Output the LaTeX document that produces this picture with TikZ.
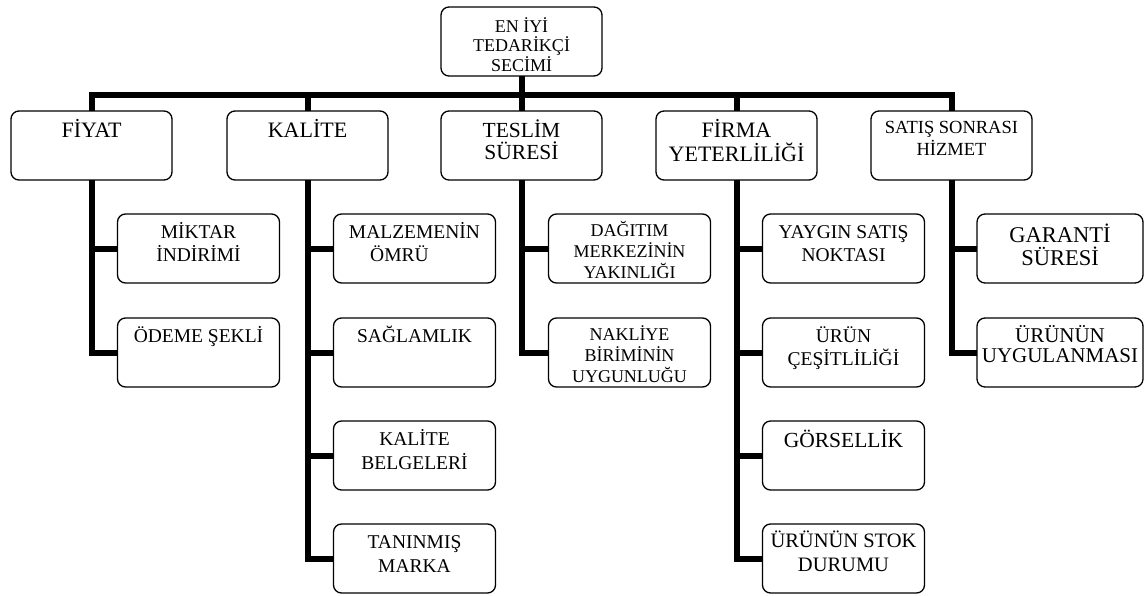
\documentclass[tikz,border=0pt]{standalone}
\usepackage{fontspec}
\setmainfont{Liberation Serif}
\newfontfamily\boxfont{Liberation Serif}

% Top-aligned text block of fixed size:
% #1 height, #2 width, #3 font size, #4 leading, #5 first baseline offset, #6 text
\newcommand{\cellbox}[6]{%
  \parbox[c][#1][t]{#2}{\centering\boxfont\fontsize{#3}{#4}\selectfont\rule{0pt}{#5}#6}}
% standard box contents
\newcommand{\stdbox}[4]{\cellbox{69pt}{161pt}{#1}{#2}{#3}{#4}}
\newcommand{\subbox}[4]{\cellbox{69pt}{162pt}{#1}{#2}{#3}{#4}}
\newcommand{\widebox}[4]{\cellbox{69pt}{166pt}{#1}{#2}{#3}{#4}}

\tikzset{
  box/.style={draw, rounded corners=8pt, line width=1.3pt, inner sep=0pt, outer sep=0pt},
  trunk/.style={line width=6pt, line join=miter}
}

\begin{document}
\begin{tikzpicture}[x=1pt, y=-1pt]
\useasboundingbox (0,0) rectangle (1146,595);

% root
\node[box] (root) at (521.5,41.5) {\stdbox{18}{19.5}{25pt}{EN İYİ\\TEDARİKÇİ\\SECİMİ}};
\coordinate (bus) at (521.5,95);

% first level
\node[box] (fiyat)  at (91.5,145.5)  {\stdbox{22}{23}{26pt}{FİYAT}};
\node[box] (kalite) at (307.5,145.5) {\stdbox{22}{23}{26pt}{KALİTE}};
\node[box] (teslim) at (521.5,145.5) {\stdbox{21.5}{22}{26pt}{TESLİM\\SÜRESİ}};
\node[box] (firma)  at (736.5,145.5) {\stdbox{22}{24}{26pt}{FİRMA\\YETERLİLİĞİ}};
\node[box] (satis)  at (951.5,145.5) {\stdbox{18.5}{22}{22pt}{SATIŞ SONRASI\\HİZMET}};

% FİYAT
\node[box] (miktar) at (198.5,248.5) {\subbox{19.5}{23}{24pt}{MİKTAR\\İNDİRİMİ}};
\node[box] (odeme)  at (198.5,352.5) {\subbox{19.5}{23}{24pt}{ÖDEME ŞEKLİ}};

% KALİTE
\node[box] (omur)    at (414.5,248.5) {\subbox{19.5}{23}{24pt}{MALZEMENİN\\ÖMRÜ\hspace*{30pt}}};
\node[box] (saglam)  at (414.5,352.5) {\subbox{19.5}{23}{24pt}{SAĞLAMLIK}};
\node[box] (belge)   at (414.5,455.5) {\subbox{19.5}{24}{24pt}{KALİTE\\BELGELERİ}};
\node[box] (marka)   at (414.5,558.5) {\subbox{19.5}{24}{24pt}{TANINMIŞ\\MARKA}};

% TESLİM SÜRESİ
\node[box] (dagitim) at (629.5,248.5) {\subbox{18}{21}{22pt}{DAĞITIM\\MERKEZİNİN\\YAKINLIĞI}};
\node[box] (nakliye) at (629.5,352.5) {\subbox{18}{21}{22pt}{NAKLİYE\\BİRİMİNİN\\UYGUNLUĞU}};

% FİRMA YETERLİLİĞİ
\node[box] (yaygin)  at (843.5,248.5) {\subbox{19.5}{23}{24pt}{YAYGIN SATIŞ\\NOKTASI}};
\node[box] (cesit)   at (843.5,352.5) {\subbox{19.5}{23}{24pt}{ÜRÜN\\ÇEŞİTLİLİĞİ}};
\node[box] (gorsel)  at (843.5,455.5) {\subbox{21.5}{23}{26pt}{GÖRSELLİK}};
\node[box] (stok)    at (843.5,558.5) {\subbox{20.5}{24}{23pt}{ÜRÜNÜN STOK\\DURUMU}};

% SATIŞ SONRASI HİZMET
\node[box] (garanti) at (1060,248.5) {\widebox{22.5}{23}{28pt}{GARANTİ\\SÜRESİ}};
\node[box] (uygula)  at (1060,352.5) {\widebox{21}{20.5}{24pt}{ÜRÜNÜN\\UYGULANMASI}};

% connectors: root to first level
\draw[trunk] (root.south) -- (teslim.north);
\draw[trunk] (fiyat.north) |- (bus) -| (satis.north);
\draw[trunk] (kalite.north) -- (kalite.north |- bus);
\draw[trunk] (firma.north) -- (firma.north |- bus);

% connectors: first level to second level
\draw[trunk] (fiyat.south) |- (miktar.west);
\draw[trunk] (fiyat.south) |- (odeme.west);
\draw[trunk] (kalite.south) |- (omur.west);
\draw[trunk] (kalite.south) |- (saglam.west);
\draw[trunk] (kalite.south) |- (belge.west);
\draw[trunk] (kalite.south) |- (marka.west);
\draw[trunk] (teslim.south) |- (dagitim.west);
\draw[trunk] (teslim.south) |- (nakliye.west);
\draw[trunk] (firma.south) |- (yaygin.west);
\draw[trunk] (firma.south) |- (cesit.west);
\draw[trunk] (firma.south) |- (gorsel.west);
\draw[trunk] (firma.south) |- (stok.west);
\draw[trunk] (satis.south) |- (garanti.west);
\draw[trunk] (satis.south) |- (uygula.west);
\end{tikzpicture}
\end{document}
